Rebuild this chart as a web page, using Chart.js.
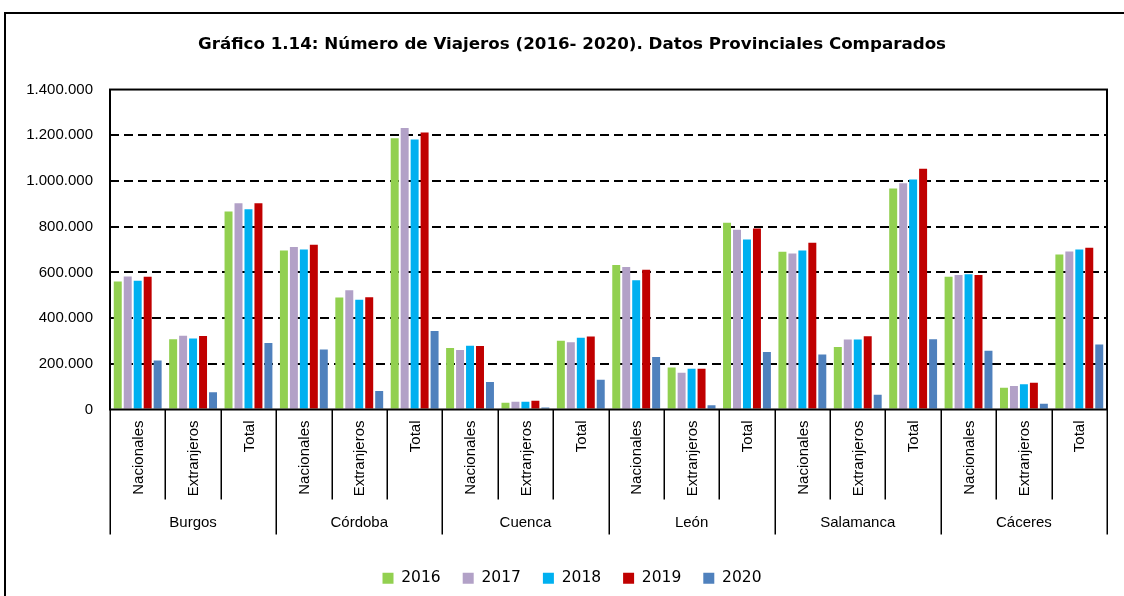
<!DOCTYPE html>
<html>
<head>
<meta charset="utf-8">
<script src="https://cdn.jsdelivr.net/npm/chart.js@4.4.1/dist/chart.umd.min.js"></script>
<style>
html,body{margin:0;padding:0;background:#fff;}
#wrap{width:1124px;height:596px;position:relative;}
</style>
</head>
<body>
<div id="wrap"><canvas id="c" width="1124" height="596"></canvas></div>
<script>
const titleText = "Gráfico 1.14: Número de Viajeros (2016- 2020). Datos Provinciales Comparados";
const provinces = ["Burgos", "Córdoba", "Cuenca", "León", "Salamanca", "Cáceres"];
const subCategories = ["Nacionales", "Extranjeros", "Total"];
const categories = provinces.flatMap(p => subCategories.map(s => s));
const years = ["2016", "2017", "2018", "2019", "2020"];
const colors = ["#92D050", "#B2A1C7", "#00B0F0", "#C00000", "#4F81BD"];
const yTicks = [0, 200000, 400000, 600000, 800000, 1000000, 1200000, 1400000];

const v2016 = [560000, 307000, 866000, 696000, 490000, 1187000, 269000, 29000, 301000, 632000, 184000, 817000, 690000, 274000, 967000, 581000, 95000, 678000];
const v2017 = [582000, 323000, 903000, 711000, 522000, 1232000, 260000, 34000, 294000, 623000, 161000, 787000, 683000, 306000, 990000, 589000, 103000, 691000];
const v2018 = [563000, 311000, 876000, 700000, 480000, 1181000, 279000, 34000, 314000, 565000, 178000, 744000, 696000, 306000, 1006000, 592000, 110000, 700000];
const v2019 = [581000, 322000, 902000, 721000, 491000, 1212000, 278000, 38000, 319000, 611000, 178000, 792000, 730000, 320000, 1053000, 589000, 117000, 708000];
const v2020 = [214000, 76000, 291000, 262000, 81000, 344000, 120000, 9000, 130000, 230000, 19000, 252000, 241000, 64000, 307000, 257000, 25000, 284000];
const seriesValues = [v2016, v2017, v2018, v2019, v2020];

function fmt(v){ return String(v).replace(/\B(?=(\d{3})+(?!\d))/g, "."); }

const decor = {
  id: 'decor',
  beforeDraw(chart){
    const ctx = chart.ctx;
    ctx.save();
    ctx.fillStyle = '#fff';
    ctx.fillRect(0,0,chart.width,chart.height);
    ctx.strokeStyle = '#000';
    ctx.lineWidth = 2;
    ctx.strokeRect(5, 13, 1300, 800);
    ctx.restore();
  },
  afterDatasetsDraw(chart){
    const ctx = chart.ctx;
    const a = chart.chartArea;
    const xs = chart.scales.x;
    ctx.save();
    ctx.strokeStyle = '#000';
    ctx.lineWidth = 2;
    ctx.strokeRect(a.left, a.top, a.right - a.left, a.bottom - a.top);
    // separators
    const n = categories.length;
    const w = (a.right - a.left) / n;
    ctx.lineWidth = 1.5;
    for (let k = 0; k <= n; k++) {
      const x = Math.round(a.left + k * w) + 0.25;
      const y2 = (k % 3 === 0) ? a.bottom + 125 : a.bottom + 90;
      ctx.beginPath();
      ctx.moveTo(x, a.bottom);
      ctx.lineTo(x, y2);
      ctx.stroke();
    }
    // sub labels
    ctx.fillStyle = '#000';
    ctx.font = '15px "Liberation Sans", Arial, sans-serif';
    ctx.textAlign = 'right';
    ctx.textBaseline = 'middle';
    for (let i = 0; i < n; i++) {
      const x = xs.getPixelForValue(i);
      ctx.save();
      ctx.translate(x + 1, a.bottom + 11);
      ctx.rotate(-Math.PI / 2);
      ctx.fillText(categories[i], 0, 0);
      ctx.restore();
    }
    // province labels
    ctx.textAlign = 'center';
    for (let p = 0; p < provinces.length; p++) {
      const x = (xs.getPixelForValue(p * 3) + xs.getPixelForValue(p * 3 + 2)) / 2;
      ctx.fillText(provinces[p], x, a.bottom + 113);
    }
    ctx.restore();
  }
};

new Chart(document.getElementById('c'), {
  type: 'bar',
  plugins: [decor],
  data: {
    labels: categories,
    datasets: years.map((y, i) => ({
      label: y,
      data: seriesValues[i],
      backgroundColor: colors[i],
      borderWidth: 0,
      barPercentage: 0.8,
      categoryPercentage: 0.9
    }))
  },
  options: {
    responsive: false,
    animation: false,
    devicePixelRatio: 1,
    layout: { padding: { left: 20, right: 0, top: 0, bottom: 0 } },
    plugins: {
      title: {
        display: true,
        text: titleText,
        color: '#000',
        font: { family: '"DejaVu Sans", sans-serif', size: 16.7, weight: 'bold' },
        padding: { top: 35, bottom: 34.5 }
      },
      legend: {
        position: 'bottom',
        labels: {
          color: '#000',
          boxWidth: 11,
          boxHeight: 11,
          padding: 22,
          font: { family: '"DejaVu Sans", sans-serif', size: 15.5 }
        }
      },
      tooltip: { enabled: false }
    },
    scales: {
      x: {
        grid: { display: false },
        border: { display: false },
        ticks: { display: false },
        afterFit(s){ s.height = 139; }
      },
      y: {
        min: 0,
        max: 1400000,
        afterBuildTicks(s){ s.ticks = yTicks.map(v => ({ value: v })); },
        grid: {
          drawTicks: false,
          color: c => (c.tick && (c.tick.value === 0 || c.tick.value === 1400000)) ? 'rgba(0,0,0,0)' : '#000',
          lineWidth: 2
        },
        border: { display: false, dash: [9, 5] },
        ticks: {
          padding: 17,
          color: '#000',
          font: { family: '"Liberation Sans", Arial, sans-serif', size: 15 },
          callback: v => fmt(v)
        },
        afterFit(s){ s.width = 90; }
      },
      yr: {
        position: 'right',
        min: 0,
        max: 1400000,
        grid: { display: false, drawOnChartArea: false },
        border: { display: false },
        ticks: { display: false },
        afterFit(s){ s.width = 17; }
      }
    }
  }
});
</script>
</body>
</html>
